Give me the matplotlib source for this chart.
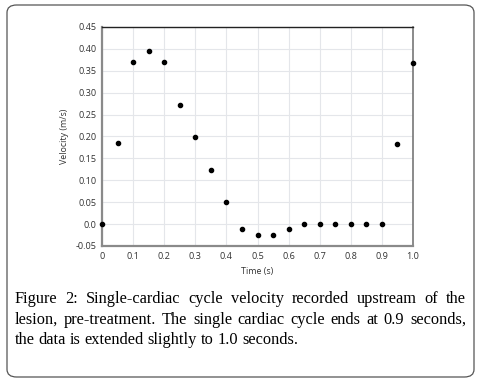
import matplotlib.pyplot as plt
from matplotlib.patches import FancyBboxPatch

time_s = [0.0, 0.05, 0.1, 0.15, 0.2, 0.25, 0.3, 0.35, 0.4, 0.45, 0.5,
          0.55, 0.6, 0.65, 0.7, 0.75, 0.8, 0.85, 0.9, 0.95, 1.0]
velocity = [0.0, 0.185, 0.370, 0.395, 0.370, 0.272, 0.198, 0.124, 0.050, -0.012, -0.025,
            -0.025, -0.012, 0.0, 0.0, 0.0, 0.0, 0.0, 0.0, 0.184, 0.367]

yticks = [-0.05, 0.0, 0.05, 0.10, 0.15, 0.20, 0.25, 0.30, 0.35, 0.40, 0.45]
ytick_labels = ['-0.05', '0.0', '0.05', '0.10', '0.15', '0.20', '0.25', '0.30', '0.35', '0.40', '0.45']
xticks = [0.0, 0.1, 0.2, 0.3, 0.4, 0.5, 0.6, 0.7, 0.8, 0.9, 1.0]
xtick_labels = ['0', '0.1', '0.2', '0.3', '0.4', '0.5', '0.6', '0.7', '0.8', '0.9', '1.0']

caption = ['Figure 2: Single-cardiac cycle velocity recorded upstream of the',
           'lesion, pre-treatment. The single cardiac cycle ends at 0.9 seconds,',
           'the data is extended slightly to 1.0 seconds.']

W, H = 481, 382
fig = plt.figure(figsize=(W / 100, H / 100), dpi=100)

# rounded frame around figure + caption
box = FancyBboxPatch((7 / W, 5 / H), (474 - 7) / W, (377 - 5) / H,
                     boxstyle='round,pad=0,rounding_size=0.02',
                     transform=fig.transFigure, fill=False,
                     edgecolor='#555555', linewidth=0.9)
fig.patches.append(box)

ax = fig.add_axes([102 / W, 1 - 246 / H, (413 - 102) / W, (246 - 27) / H])
ax.scatter(time_s, velocity, s=9, color='black', zorder=3, clip_on=False)
ax.set_xlim(0, 1.0)
ax.set_ylim(-0.05, 0.45)
ax.set_xticks(xticks)
ax.set_xticklabels(xtick_labels)
ax.set_yticks(yticks)
ax.set_yticklabels(ytick_labels)
ax.tick_params(length=0, labelsize=6.6, colors='#333333', pad=4)
for lbl in ax.get_xticklabels() + ax.get_yticklabels():
    lbl.set_family('Open Sans')
ax.grid(True, color='#e4e6ea', linewidth=0.8)
ax.set_axisbelow(True)
for side in ['left', 'bottom']:
    ax.spines[side].set_color('#8a8a8a')
    ax.spines[side].set_linewidth(1.6)
ax.spines['top'].set_color('#222222')
ax.spines['top'].set_linewidth(1.0)
ax.spines['right'].set_color('#777777')
ax.spines['right'].set_linewidth(1.2)
ax.set_xlabel('Time (s)', fontsize=6.4, color='#333333', labelpad=5, family='Open Sans')
ax.set_ylabel('Velocity (m/s)', fontsize=6.4, color='#333333', labelpad=5, family='Open Sans')

# justified caption, last line left aligned
x0, x1 = 15, 466
line_y = [299, 320, 340]
renderer = fig.canvas.get_renderer()
for i, (line, yy) in enumerate(zip(caption, line_y)):
    words = line.split(' ')
    texts = [fig.text(0, 1 - yy / H, w, fontsize=11.8, family='Liberation Serif',
                      va='center', ha='left') for w in words]
    widths = [t.get_window_extent(renderer).width for t in texts]
    if i < len(caption) - 1:
        gap = (x1 - x0 - sum(widths)) / (len(words) - 1)
    else:
        gap = 3.8
    xx = x0
    for t, w in zip(texts, widths):
        t.set_x(xx / W)
        xx += w + gap

fig.savefig('out.png', dpi=100)
